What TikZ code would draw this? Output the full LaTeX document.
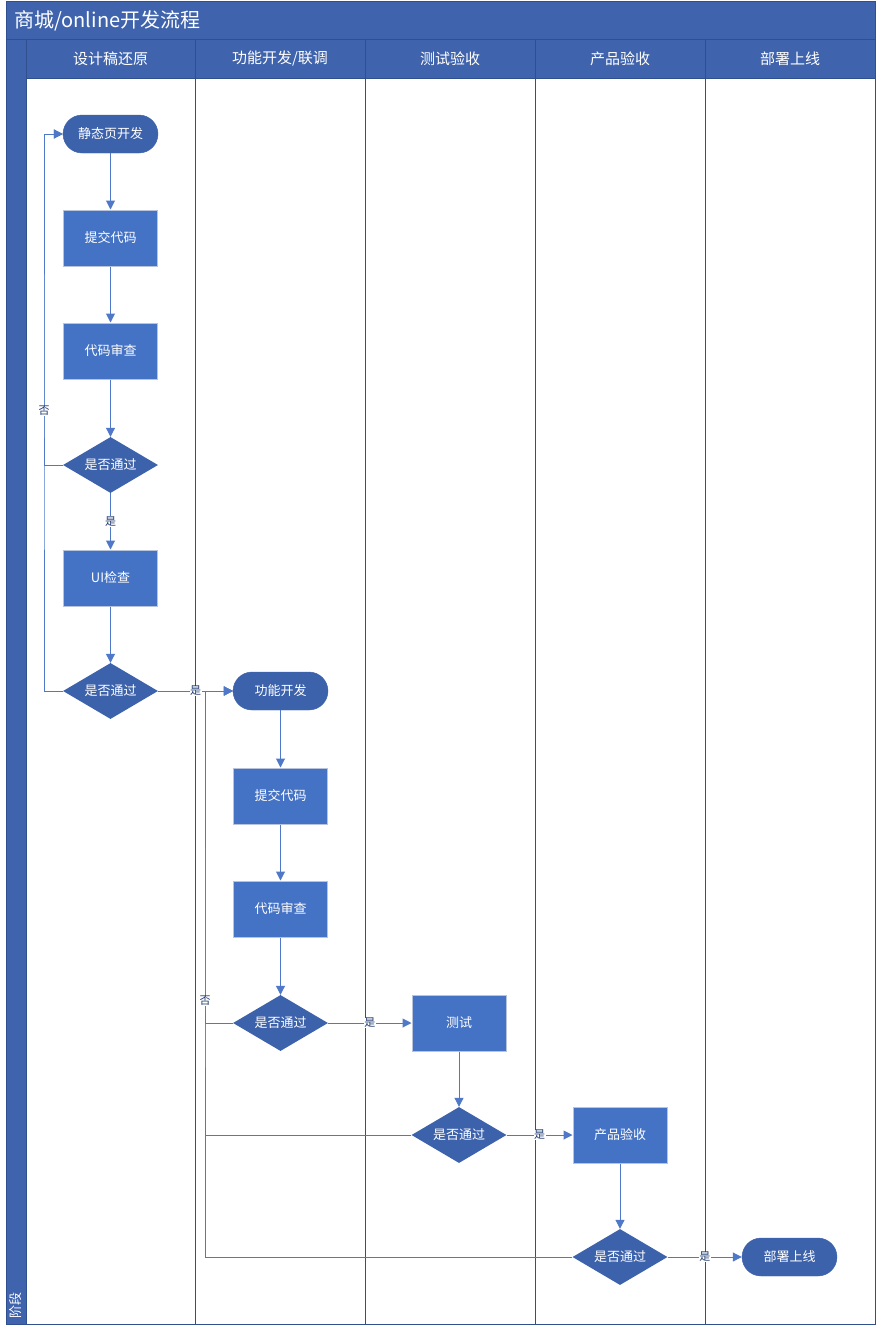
\documentclass[tikz,border=0pt]{standalone}
\usepackage{fontspec}
\setmainfont{Noto Sans CJK SC}
\usetikzlibrary{shapes.geometric,arrows.meta}
\definecolor{band}{HTML}{3F63AC}
\definecolor{frame}{HTML}{2F4F8F}
\definecolor{boxfill}{HTML}{4472C4}
\definecolor{boxedge}{HTML}{B8C4DC}
\definecolor{termfill}{HTML}{3D62AC}
\definecolor{link}{HTML}{4F78C8}
\definecolor{lbl}{HTML}{1F3A70}
\begin{document}
\begin{tikzpicture}[x=1pt,y=-1pt,
  every node/.style={font=\fontsize{13}{15}\selectfont, text=white},
  stepbox/.style={rectangle, draw=boxedge, line width=1pt, fill=boxfill,
    minimum width=94pt, minimum height=56pt, inner sep=0pt},
  term/.style={rectangle, rounded corners=19pt, draw=termfill, fill=termfill,
    minimum width=95pt, minimum height=38pt, inner sep=0pt},
  decide/.style={diamond, fill=termfill, minimum width=95pt, minimum height=56pt,
    inner sep=0pt, aspect=1.7},
  flow/.style={draw=link, line width=1pt, -{Triangle[length=9pt,width=9pt]}},
  tag/.style={fill=white, text=lbl, font=\fontsize{11}{12}\selectfont, inner sep=0.5pt},
  lanehead/.style={font=\fontsize{15}{17}\selectfont},
]
\useasboundingbox (0,0) rectangle (876,1330);
\fill[white] (0,0) rectangle (876,1330);

% pool: title band, header row, left stripe
\fill[band] (6,2) rectangle (875,78);
\fill[band] (6,78) rectangle (26,1324);
\draw[frame, line width=1pt] (6,40) -- (875,40);
\draw[frame, line width=1pt] (26,78) -- (875,78);
\foreach \lx in {26,195,365,535,705}
  \draw[frame, line width=1pt] (\lx,40) -- (\lx,1324);
\draw[frame, line width=1pt] (6,2) rectangle (875,1324);

\node[anchor=west, font=\fontsize{20}{24}\selectfont] (title) at (11,21) {商城/online开发流程};
\node[lanehead] (h1) at (110.5,59) {设计稿还原};
\node[lanehead] (h2) at (280,59) {功能开发/联调};
\node[lanehead] (h3) at (450,59) {测试验收};
\node[lanehead] (h4) at (620,59) {产品验收};
\node[lanehead] (h5) at (790,59) {部署上线};
\node[rotate=90, anchor=west] (stage) at (16,1322) {阶段};

% lane 1: design restoration
\node[term] (s1) at (110.5,134) {静态页开发};
\node[stepbox] (s2) at (110.5,238) {提交代码};
\node[stepbox] (s3) at (110.5,351) {代码审查};
\node[decide] (d1) at (110.5,465) {是否通过};
\node[stepbox] (ui) at (110.5,578) {UI检查};
\node[decide] (d2) at (110.5,691) {是否通过};

% lane 2: feature development
\node[term] (f1) at (280.5,691) {功能开发};
\node[stepbox] (f2) at (280.5,796) {提交代码};
\node[stepbox] (f3) at (280.5,909) {代码审查};
\node[decide] (d3) at (280.5,1023) {是否通过};

% lane 3..5
\node[stepbox] (t1) at (459,1023) {测试};
\node[decide] (d4) at (459,1135) {是否通过};
\node[stepbox] (p1) at (620,1135) {产品验收};
\node[decide] (d5) at (620,1257) {是否通过};
\node[term] (go) at (789.5,1257) {部署上线};

% return points of the two loops
\coordinate (loopL) at (44,411);
\coordinate (loopR) at (205,1001);

% connectors
\draw[flow] (s1) -- (s2);
\draw[flow] (s2) -- (s3);
\draw[flow] (s3) -- (d1);
\draw[flow] (d1) -- node[tag]{是} (ui);
\draw[flow] (ui) -- (d2);
\draw[flow] (d1.west) -| (loopL) |- (s1.west);
\draw[flow] (d2.west) -| (loopL) node[tag]{否} |- (s1.west);
\draw[flow] (d2) -- node[tag]{是} (f1);

\draw[flow] (f1) -- (f2);
\draw[flow] (f2) -- (f3);
\draw[flow] (f3) -- (d3);
\draw[flow] (d4.west) -| (loopR) |- (f1.west);
\draw[flow] (d5.west) -| (loopR) |- (f1.west);
\draw[flow] (d3.west) -| (loopR) node[tag]{否} |- (f1.west);
\draw[flow] (d3) -- node[tag]{是} (t1);
\draw[flow] (t1) -- (d4);
\draw[flow] (d4) -- node[tag]{是} (p1);
\draw[flow] (p1) -- (d5);
\draw[flow] (d5) -- node[tag]{是} (go);
\end{tikzpicture}
\end{document}
